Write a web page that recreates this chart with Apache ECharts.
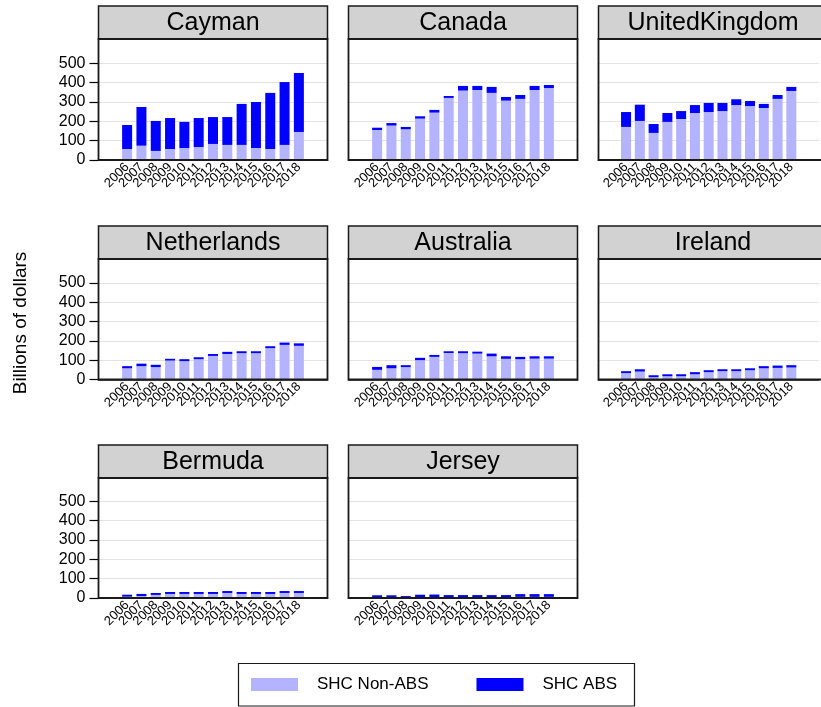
<!DOCTYPE html>
<html>
<head>
<meta charset="utf-8">
<script src="https://cdn.jsdelivr.net/npm/echarts@6/dist/echarts.min.js"></script>
<style>html,body{margin:0;padding:0;background:#fff;}#main{width:821px;height:707px;}</style>
</head>
<body>
<div id="main"></div>
<script>
const years = ['2006','2007','2008','2009','2010','2011','2012','2013','2014','2015','2016','2017','2018'];
const countries = ['Cayman','Canada','UnitedKingdom','Netherlands','Australia','Ireland','Bermuda','Jersey'];
const yTicks = [0, 100, 200, 300, 400, 500];

const caymanNonAbs = [57, 74, 47, 57, 62, 67, 83, 78, 78, 62, 57, 78, 145];
const caymanAbs    = [124, 200, 155, 160, 135, 150, 139, 144, 212, 238, 290, 325, 305];
const canadaNonAbs = [155, 178, 159, 214, 245, 321, 359, 362, 347, 307, 316, 362, 372];
const canadaAbs    = [12, 13, 12, 12, 14, 10, 24, 21, 31, 19, 20, 21, 16];
const ukNonAbs     = [171, 202, 140, 197, 212, 243, 248, 253, 284, 279, 269, 316, 357];
const ukAbs        = [77, 84, 46, 46, 41, 41, 47, 42, 30, 26, 21, 20, 21];
const nlNonAbs     = [58, 69, 64, 98, 95, 105, 122, 132, 136, 136, 162, 179, 174];
const nlAbs        = [11, 13, 12, 9, 10, 10, 10, 11, 10, 10, 10, 12, 13];
const auNonAbs     = [50, 58, 64, 100, 117, 137, 136, 134, 120, 107, 105, 108, 108];
const auAbs        = [15, 16, 10, 12, 10, 9, 10, 10, 14, 13, 12, 12, 12];
const ieNonAbs     = [33, 41, 12, 17, 17, 27, 38, 43, 43, 48, 58, 60, 62];
const ieAbs        = [10, 12, 10, 10, 10, 11, 10, 10, 10, 10, 11, 12, 12];
const bmNonAbs     = [7, 10, 16, 21, 21, 21, 21, 26, 21, 21, 21, 26, 26];
const bmAbs        = [10, 11, 10, 10, 10, 10, 10, 10, 10, 10, 10, 10, 10];
const jeNonAbs     = [4, 4, 3, 5, 5, 4, 4, 4, 4, 4, 6, 6, 6];
const jeAbs        = [10, 10, 7, 12, 13, 11, 11, 11, 11, 11, 14, 14, 14];

const nonAbsList = [caymanNonAbs, canadaNonAbs, ukNonAbs, nlNonAbs, auNonAbs, ieNonAbs, bmNonAbs, jeNonAbs];
const absList    = [caymanAbs, canadaAbs, ukAbs, nlAbs, auAbs, ieAbs, bmAbs, jeAbs];

const FONT = '"Liberation Sans", Arial, sans-serif';
const colLeft = [98.5, 348.5, 598.5];
const panelW = 229;
const rowHeaderTop = [6, 226, 445];
const headerH = 33;
const rowZero = [160, 379.5, 598];
const plot500 = 96.7; // px from 0 to 500

const cats = ['', ''].concat(years, ['', '']);
const pad = a => [null, null].concat(a, [null, null]);

const grids = [], xAxes = [], yAxes = [], series = [], graphics = [];

countries.forEach((name, i) => {
  const col = i % 3, row = Math.floor(i / 3);
  const left = colLeft[col];
  const zero = rowZero[row];
  const hTop = rowHeaderTop[row];
  const pTop = hTop + headerH;
  grids.push({ left: left, top: zero - plot500, width: panelW, height: plot500, containLabel: false });
  xAxes.push({
    type: 'category', gridIndex: i, data: cats, boundaryGap: false,
    axisLine: { show: true, lineStyle: { color: '#1a1a1a', width: 1.5 } },
    axisTick: { show: false },
    axisLabel: { interval: 0, rotate: 45, fontSize: 13, color: '#000', fontFamily: FONT, margin: 5 },
    splitLine: { show: false }
  });
  const showY = col === 0;
  yAxes.push({
    type: 'value', gridIndex: i, min: 0, max: 500, interval: 100,
    axisLine: { show: false },
    axisTick: { show: showY, length: 9, lineStyle: { color: '#000', width: 1.2 } },
    axisLabel: { show: showY, fontSize: 16, color: '#000', fontFamily: FONT, margin: 13 },
    splitLine: { show: true, lineStyle: { color: '#e3e3e3', width: 1 } }
  });
  series.push({
    name: 'SHC Non-ABS', type: 'bar', xAxisIndex: i, yAxisIndex: i, stack: 's' + i,
    data: pad(nonAbsList[i]), barWidth: 10, itemStyle: { color: '#b3b3ff' }, emphasis: { disabled: true }
  });
  series.push({
    name: 'SHC ABS', type: 'bar', xAxisIndex: i, yAxisIndex: i, stack: 's' + i,
    data: pad(absList[i]), barWidth: 10, itemStyle: { color: '#0000ff' }, emphasis: { disabled: true }
  });
  // header box
  graphics.push({
    type: 'rect', z: 100,
    shape: { x: left, y: hTop, width: panelW, height: headerH },
    style: { fill: '#d2d2d2', stroke: '#1a1a1a', lineWidth: 1.5 }
  });
  graphics.push({
    type: 'text', z: 101, x: left + panelW / 2, y: hTop + headerH / 2 + 1,
    style: { text: name, fill: '#000', font: '25px ' + FONT, textAlign: 'center', textVerticalAlign: 'middle', align: 'center', verticalAlign: 'middle' }
  });
  // plot frame
  graphics.push({
    type: 'rect', z: 102,
    shape: { x: left, y: pTop, width: panelW, height: zero - pTop },
    style: { fill: 'transparent', stroke: '#1a1a1a', lineWidth: 1.8 }
  });
});

// y axis title
graphics.push({
  type: 'text', z: 101, x: 21, y: 323, rotation: Math.PI / 2,
  style: { text: 'Billions of dollars', fill: '#000', font: '19px ' + FONT, textAlign: 'center', textVerticalAlign: 'middle', align: 'center', verticalAlign: 'middle' }
});
// legend border
graphics.push({
  type: 'rect', z: 100,
  shape: { x: 238.5, y: 663.5, width: 396, height: 42.5 },
  style: { fill: 'transparent', stroke: '#1a1a1a', lineWidth: 1.2 }
});

const option = {
  animation: false,
  backgroundColor: '#fff',
  grid: grids,
  xAxis: xAxes,
  yAxis: yAxes,
  series: series,
  legend: {
    data: ['SHC Non-ABS', 'SHC ABS'],
    left: 251, top: 676, padding: 0,
    icon: 'rect', itemWidth: 47, itemHeight: 13, itemGap: 48,
    textStyle: { fontSize: 17, color: '#000', fontFamily: FONT, padding: [0, 0, 0, 14] },
    selectedMode: false
  },
  graphic: graphics
};

const chart = echarts.init(document.getElementById('main'), null, { renderer: 'canvas' });
chart.setOption(option);
</script>
</body>
</html>
